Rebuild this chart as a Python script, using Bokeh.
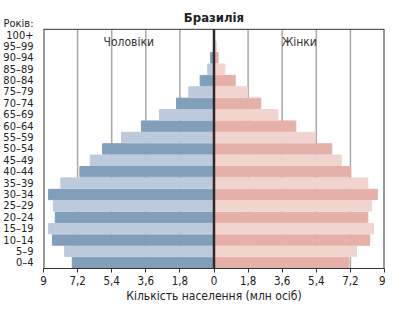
from bokeh.plotting import figure
from bokeh.models import FixedTicker, Range1d, ColumnDataSource
from bokeh.core.properties import value
from bokeh.embed import file_html
from bokeh.resources import INLINE

ages = ["0–4", "5–9", "10–14", "15–19", "20–24", "25–29", "30–34", "35–39",
        "40–44", "45–49", "50–54", "55–59", "60–64", "65–69", "70–74", "75–79",
        "80–84", "85–89", "90–94", "95–99", "100+"]
male = [7.48, 7.88, 8.53, 8.73, 8.38, 8.48, 8.73, 8.08, 7.08, 6.53, 5.88,
        4.88, 3.83, 2.88, 1.98, 1.33, 0.73, 0.33, 0.18, 0.03, 0.01]
female = [7.12, 7.52, 8.22, 8.42, 8.12, 8.32, 8.62, 8.12, 7.22, 6.72, 6.22,
          5.32, 4.32, 3.37, 2.47, 1.77, 1.12, 0.57, 0.22, 0.12, 0.02]
x_ticks = [-9, -7.2, -5.4, -3.6, -1.8, 0, 1.8, 3.6, 5.4, 7.2, 9]
x_tick_labels = ["9", "7,2", "5,4", "3,6", "1,8", "0", "1,8", "3,6", "5,4", "7,2", "9"]
title_text = "Бразилія"
years_text = "Років:"
male_text = "Чоловіки"
female_text = "Жінки"
x_title = "Кількість населення (млн осіб)"

FONT = "DejaVu Sans Condensed, Roboto"
TXT = "#222222"
LINE = "#333333"

n = len(ages)
idx = list(range(n))
top = n - 0.5
male_colors = ["#819ebb" if i % 2 == 0 else "#bccadb" for i in idx]
female_colors = ["#e5b0a7" if i % 2 == 0 else "#f2d4ce" for i in idx]

src = ColumnDataSource(dict(
    y=idx,
    male=[-v for v in male],
    female=female,
    mc=male_colors,
    fc=female_colors,
))

p = figure(width=385, height=305, output_backend="svg", toolbar_location=None,
           x_range=Range1d(x_ticks[0], x_ticks[-1]), y_range=Range1d(-0.5, 23.03),
           min_border_left=33, min_border_right=1, min_border_top=0,
           min_border_bottom=35)
p.outline_line_color = None
p.grid.visible = False
p.background_fill_color = "white"
p.border_fill_color = "white"

# vertical grid lines (behind bars)
inner = [t for t in x_ticks[1:-1] if t != 0]
p.segment(x0=inner, y0=-0.5, x1=inner, y1=top, line_color="#a8a8a8", line_width=1.5)

p.hbar(y="y", left=0, right="male", height=0.91, color="mc", source=src)
p.hbar(y="y", left=0, right="female", height=0.91, color="fc", source=src)

# centre line and frame
p.segment(x0=0, y0=-0.5, x1=0, y1=top, line_color="#2b2b2b", line_width=2.5)
p.segment(x0=x_ticks[0], y0=top, x1=x_ticks[-1], y1=top, line_color=LINE, line_width=1)
p.segment(x0=[x_ticks[0], x_ticks[-1]], y0=-0.5, x1=[x_ticks[0], x_ticks[-1]], y1=top,
          line_color=LINE, line_width=2)

# texts
p.text(x=0, y=top, text=value(title_text), y_offset=-12, text_align="center",
       text_baseline="middle", text_font=value(FONT), text_font_size="13px",
       text_font_style="bold", text_color=TXT)
p.text(x=-4.5, y=top, text=value(male_text), y_offset=13, text_align="center",
       text_baseline="middle", text_font=value(FONT), text_font_size="12px",
       text_color=LINE)
p.text(x=4.5, y=top, text=value(female_text), y_offset=13, text_align="center",
       text_baseline="middle", text_font=value(FONT), text_font_size="12px",
       text_color=LINE)

p.xaxis.ticker = FixedTicker(ticks=x_ticks)
p.xaxis.major_label_overrides = {t: l for t, l in zip(x_ticks, x_tick_labels)}
p.xaxis.axis_line_color = LINE
p.xaxis.major_tick_line_color = LINE
p.xaxis.major_tick_out = 4
p.xaxis.major_tick_in = 0
p.xaxis.minor_tick_line_color = None
p.xaxis.major_label_text_font = FONT
p.xaxis.major_label_text_font_size = "11.5px"
p.xaxis.major_label_text_color = TXT
p.xaxis.major_label_standoff = 3
p.xaxis.axis_label = x_title
p.xaxis.axis_label_text_font = FONT
p.xaxis.axis_label_text_font_size = "12px"
p.xaxis.axis_label_text_font_style = "normal"
p.xaxis.axis_label_text_color = TXT
p.xaxis.axis_label_standoff = 1

y_ticks = idx + [n + 0.05]
y_labels = ages + [years_text]
p.yaxis.ticker = FixedTicker(ticks=y_ticks)
p.yaxis.major_label_overrides = {t: l for t, l in zip(y_ticks, y_labels)}
p.yaxis.axis_line_color = None
p.yaxis.major_tick_line_color = None
p.yaxis.minor_tick_line_color = None
p.yaxis.major_label_text_font = FONT
p.yaxis.major_label_text_font_size = "11px"
p.yaxis.major_label_text_color = TXT
p.yaxis.major_label_standoff = 4

open("out.html", "w").write(file_html(p, INLINE))
